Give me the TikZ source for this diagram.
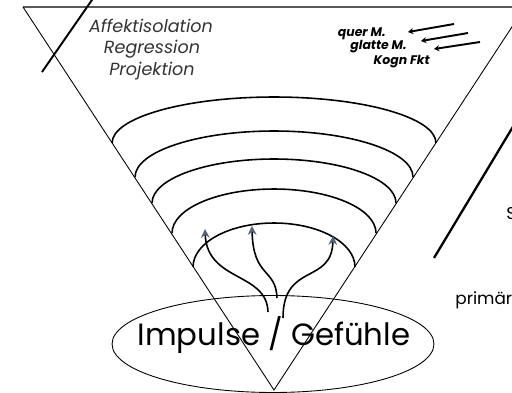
\documentclass[tikz,border=0pt]{standalone}
\usepackage{fontspec}
\setmainfont{Poppins}
\usetikzlibrary{arrows.meta,shapes.geometric}
\definecolor{tip-gray}{HTML}{56627A}
\definecolor{soft-jet}{HTML}{333333}
\definecolor{edge-gray}{HTML}{5A5A5A}

\begin{document}
\begin{tikzpicture}[x=0.02cm, y=-0.02cm, every node/.style={inner sep=0pt},
    shell/.style={line width=0.9pt},
    defense/.style={font=\itshape\fontsize{10}{12}\selectfont, color=soft-jet, anchor=base},
    mode/.style={font=\bfseries\itshape\fontsize{7.1}{8.5}\selectfont, anchor=base east},
    impulsearrow/.style={line width=0.9pt, -{Stealth[length=5pt, width=5pt, color=tip-gray]}},
    moodarrow/.style={line width=1.1pt, -{Stealth[length=3pt, width=3.5pt]}}]
    \useasboundingbox (0,0) rectangle (512,393);
    \clip (0,0) rectangle (512,393);
    \draw[edge-gray, line width=0.8pt] (23,7) -- (525,7);
    \draw[line width=0.5pt] (23,7) -- (274,390) -- (525,7);
    \foreach \ex/\ey/\rx/\ry in {436/143/3.24/0.92, 413/177/2.78/0.92, 396/203/2.44/0.88,
                                 376/233/2.04/0.88, 355/267/1.62/0.88}
      \draw[shell] (\ex,\ey) arc[start angle=0, end angle=180, x radius=\rx cm, y radius=\ry cm];
    \node[draw, ellipse, line width=0.5pt, minimum width=6.44cm, minimum height=1.94cm] (impulse) at (273,344) {};
    \node[font=\fontsize{17.5}{20}\selectfont, anchor=base] (impulsetext) at (274,345) {Impulse / Gefühle};
    \draw[impulsearrow] (268,312) .. controls (267,272) and (207,282) .. (205,229);
    \draw[impulsearrow] (277,298) .. controls (276,268) and (253,278) .. (252,226);
    \draw[impulsearrow] (283,318) .. controls (283,262) and (332,285) .. (333,236);
    \node[defense] (affekt) at (151,32) {Affektisolation};
    \node[defense] (regression) at (152,53) {Regression};
    \node[defense] (projektion) at (152,75) {Projektion};
    \node[mode] (quer) at (386,36) {quer M.};
    \node[mode] (glatte) at (407,49) {glatte M.};
    \node[mode] (kogn) at (430,64) {Kogn Fkt};
    \draw[moodarrow] (454,24) -- (408,32);
    \draw[moodarrow] (468,33) -- (421,41);
    \draw[moodarrow] (480,42) -- (434,49);
    \draw[line width=1.1pt] (94,-3) -- (42,72);
    \draw[line width=1.3pt] (517,120) -- (434,258);
    \node[font=\fontsize{9.7}{11}\selectfont, anchor=base west] (sublabel) at (506,219) {S};
    \node[font=\fontsize{9.6}{11}\selectfont, anchor=base west] (primaer) at (455,304) {primäre};
  \end{tikzpicture}
\end{document}
